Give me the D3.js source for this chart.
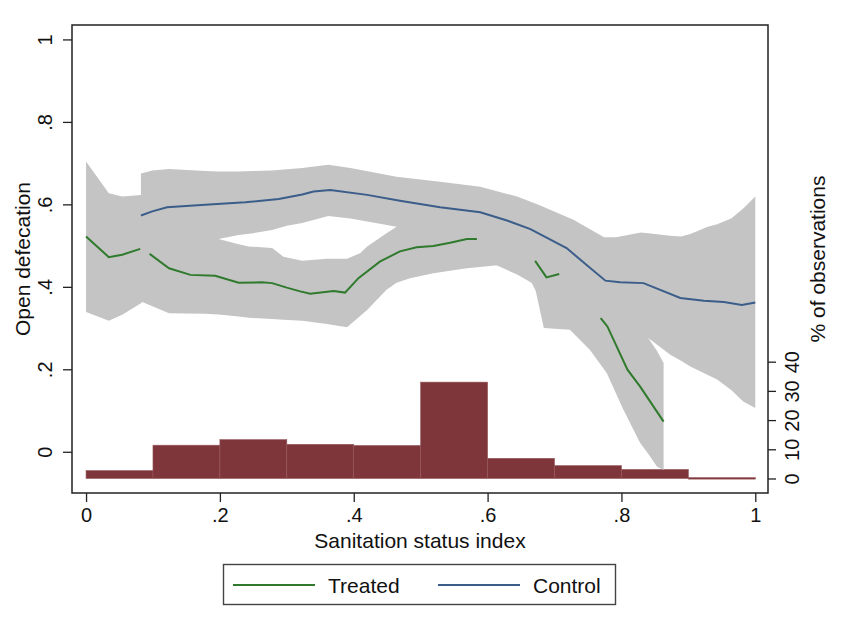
<!DOCTYPE html>
<html>
<head>
<meta charset="utf-8">
<script src="https://cdn.jsdelivr.net/npm/d3@7"></script>
<style>
  body { margin: 0; background: #fff; }
  text { font-family: "Liberation Sans", Arial, sans-serif; fill: #111; }
</style>
</head>
<body>
<svg id="chart" width="848" height="629"></svg>
<script>
// histogram: % of observations per 0.1 bin of the index
var binStart = [0, 0.1, 0.2, 0.3, 0.4, 0.5, 0.6, 0.7, 0.8, 0.9];
var binPct = [2.7, 11.4, 13.3, 11.7, 11.3, 33.0, 6.9, 4.4, 3.1, 0.3];

// treated fit (null = gap in the line)
var treatedX = [0, 0.034, 0.054, 0.081, null, 0.095, 0.124, 0.156, 0.193, 0.228, 0.263, 0.278, 0.300, 0.320, 0.335, 0.370, 0.387, 0.407, 0.439, 0.469, 0.494, 0.519, 0.544, 0.569, 0.584, null, 0.671, 0.688, 0.707, null, 0.769, 0.779, 0.809, 0.828, 0.863];
var treatedY = [0.522, 0.472, 0.478, 0.492, null, 0.480, 0.445, 0.429, 0.427, 0.410, 0.411, 0.409, 0.398, 0.389, 0.383, 0.390, 0.386, 0.421, 0.461, 0.486, 0.496, 0.499, 0.507, 0.516, 0.516, null, 0.463, 0.423, 0.431, null, 0.324, 0.304, 0.199, 0.158, 0.073];

// control fit
var controlX = [0.082, 0.099, 0.121, 0.178, 0.238, 0.288, 0.323, 0.340, 0.365, 0.420, 0.469, 0.529, 0.589, 0.629, 0.664, 0.718, 0.748, 0.776, 0.798, 0.833, 0.888, 0.923, 0.953, 0.980, 1.0];
var controlY = [0.573, 0.583, 0.593, 0.599, 0.605, 0.613, 0.624, 0.631, 0.635, 0.623, 0.609, 0.593, 0.581, 0.561, 0.540, 0.494, 0.453, 0.415, 0.411, 0.409, 0.373, 0.366, 0.363, 0.356, 0.362];

// confidence bands
var treatedCiX = [0, 0.034, 0.054, 0.082, 0.084, 0.124, 0.178, 0.198, 0.228, 0.243, 0.278, 0.295, 0.323, 0.36, 0.39, 0.41, 0.42, 0.449, 0.464, 0.484, 0.519, 0.569, 0.619, 0.659, 0.672, 0.684, 0.723, 0.753, 0.778, 0.803, 0.828, 0.840, 0.853, 0.863];
var treatedCiHi = [0.704, 0.627, 0.619, 0.623, 0.62, 0.58, 0.54, 0.516, 0.503, 0.498, 0.494, 0.473, 0.463, 0.468, 0.468, 0.482, 0.498, 0.53, 0.546, 0.56, 0.57, 0.58, 0.57, 0.55, 0.54, 0.53, 0.48, 0.43, 0.38, 0.33, 0.30, 0.276, 0.245, 0.215];
var treatedCiLo = [0.339, 0.318, 0.332, 0.360, 0.363, 0.336, 0.335, 0.333, 0.328, 0.325, 0.322, 0.320, 0.318, 0.31, 0.302, 0.330, 0.344, 0.393, 0.41, 0.421, 0.433, 0.445, 0.453, 0.433, 0.39, 0.30, 0.296, 0.247, 0.191, 0.102, 0.021, -0.005, -0.036, -0.044];

var controlCiX = [0.082, 0.099, 0.124, 0.178, 0.198, 0.228, 0.25, 0.278, 0.3, 0.323, 0.362, 0.395, 0.464, 0.529, 0.589, 0.644, 0.676, 0.729, 0.774, 0.792, 0.829, 0.84, 0.873, 0.889, 0.903, 0.929, 0.943, 0.964, 0.982, 1.0];
var controlCiHi = [0.675, 0.682, 0.686, 0.681, 0.680, 0.680, 0.681, 0.682, 0.685, 0.688, 0.696, 0.688, 0.667, 0.655, 0.643, 0.619, 0.599, 0.562, 0.520, 0.520, 0.532, 0.530, 0.524, 0.522, 0.528, 0.546, 0.552, 0.566, 0.59, 0.619];
var controlCiLo = [0.47, 0.48, 0.49, 0.51, 0.516, 0.526, 0.530, 0.538, 0.548, 0.555, 0.572, 0.566, 0.546, 0.51, 0.47, 0.43, 0.40, 0.35, 0.31, 0.30, 0.283, 0.276, 0.235, 0.221, 0.207, 0.186, 0.175, 0.150, 0.122, 0.106];

var xTicks = [0, 0.2, 0.4, 0.6, 0.8, 1];
var yTicks = [0, 0.2, 0.4, 0.6, 0.8, 1];
var pctTicks = [0, 10, 20, 30, 40];

var svg = d3.select("#chart");
var plot = {left: 72, right: 768, top: 25, bottom: 493};

var x = d3.scaleLinear().domain([-0.021, 1.019]).range([plot.left, plot.right]);
var y = d3.scaleLinear().domain([-0.1, 1.035]).range([plot.bottom, plot.top]);
var yPct = d3.scaleLinear().domain([-4.97, 155.3]).range([plot.bottom, plot.top]);

var fmt = function (d) { return d === 0 ? "0" : d === 1 ? "1" : String(d).replace(/^0/, ""); };

var grey = "#c4c4c4";

// histogram bars
svg.append("g")
  .selectAll("rect")
  .data(binStart)
  .enter().append("rect")
  .attr("x", function (d) { return x(d); })
  .attr("width", function (d) { return x(d + 0.1) - x(d); })
  .attr("y", function (d, i) { return yPct(binPct[i]); })
  .attr("height", function (d, i) { return Math.max(1.5, yPct(0) - yPct(binPct[i])); })
  .attr("fill", "#7f363a")
  .attr("stroke", "#94575a")
  .attr("stroke-width", 0.6);

// bands
function band(xs, lo, hi) {
  var pts = xs.map(function (d, i) { return {x: d, lo: lo[i], hi: hi[i]}; });
  return d3.area()
    .x(function (d) { return x(d.x); })
    .y0(function (d) { return y(d.lo); })
    .y1(function (d) { return y(d.hi); })(pts);
}
svg.append("path").attr("d", band(treatedCiX, treatedCiLo, treatedCiHi)).attr("fill", grey);
svg.append("path").attr("d", band(controlCiX, controlCiLo, controlCiHi)).attr("fill", grey);

// fitted lines
var line = d3.line()
  .defined(function (d) { return d[1] !== null; })
  .x(function (d) { return x(d[0]); })
  .y(function (d) { return y(d[1]); });

svg.append("path")
  .attr("d", line(treatedX.map(function (d, i) { return [d, treatedY[i]]; })))
  .attr("fill", "none").attr("stroke", "#2f7a2c").attr("stroke-width", 2);
svg.append("path")
  .attr("d", line(controlX.map(function (d, i) { return [d, controlY[i]]; })))
  .attr("fill", "none").attr("stroke", "#3b5d8a").attr("stroke-width", 2);

// frame
svg.append("rect")
  .attr("x", plot.left).attr("y", plot.top)
  .attr("width", plot.right - plot.left).attr("height", plot.bottom - plot.top)
  .attr("fill", "none").attr("stroke", "#222").attr("stroke-width", 1.5);

// x axis
var gx = svg.append("g").attr("transform", "translate(0," + plot.bottom + ")")
  .call(d3.axisBottom(x).tickValues(xTicks).tickFormat(fmt).tickSize(9).tickPadding(6));
gx.select(".domain").remove();
gx.selectAll("line").attr("stroke", "#222").attr("stroke-width", 1.3);
gx.selectAll("text").attr("font-size", 20).attr("dy", "0.72em").style("font-family", "Liberation Sans, Arial, sans-serif").attr("fill", "#111");

// left y axis, vertical labels
var gy = svg.append("g").attr("transform", "translate(" + plot.left + ",0)")
  .call(d3.axisLeft(y).tickValues(yTicks).tickFormat(fmt).tickSize(9));
gy.select(".domain").remove();
gy.selectAll("line").attr("stroke", "#222").attr("stroke-width", 1.3);
gy.selectAll("text")
  .attr("x", null).attr("dy", null)
  .attr("transform", "translate(-27,0) rotate(-90)")
  .attr("text-anchor", "middle")
  .attr("dominant-baseline", "central")
  .attr("font-size", 20).style("font-family", "Liberation Sans, Arial, sans-serif").attr("fill", "#111");

// right axis for histogram
var gr = svg.append("g").attr("transform", "translate(" + plot.right + ",0)")
  .call(d3.axisRight(yPct).tickValues(pctTicks).tickSize(8));
gr.select(".domain").remove();
gr.selectAll("line").attr("stroke", "#222").attr("stroke-width", 1.3);
gr.selectAll("text")
  .attr("x", null).attr("dy", null)
  .attr("transform", "translate(24,0) rotate(-90)")
  .attr("text-anchor", "middle")
  .attr("dominant-baseline", "central")
  .attr("font-size", 20).style("font-family", "Liberation Sans, Arial, sans-serif").attr("fill", "#111");

// titles
svg.append("text").attr("x", 420).attr("y", 548).attr("text-anchor", "middle")
  .attr("font-size", 21).text("Sanitation status index");
svg.append("text").attr("transform", "translate(22,259) rotate(-90)")
  .attr("text-anchor", "middle").attr("dominant-baseline", "central")
  .attr("font-size", 21).text("Open defecation");
svg.append("text").attr("transform", "translate(817,259) rotate(-90)")
  .attr("text-anchor", "middle").attr("dominant-baseline", "central")
  .attr("font-size", 21).text("% of observations");

// legend
var lg = svg.append("g");
lg.append("rect").attr("x", 223.5).attr("y", 564.5).attr("width", 392).attr("height", 40)
  .attr("fill", "#fff").attr("stroke", "#444").attr("stroke-width", 1.4);
var legendItems = [
  {label: "Treated", color: "#2f7a2c", x0: 233},
  {label: "Control", color: "#3b5d8a", x0: 438}
];
legendItems.forEach(function (d) {
  lg.append("line").attr("x1", d.x0).attr("x2", d.x0 + 82).attr("y1", 585).attr("y2", 585)
    .attr("stroke", d.color).attr("stroke-width", 2.2);
  lg.append("text").attr("x", d.x0 + 95).attr("y", 593).attr("font-size", 21).text(d.label);
});
</script>
</body>
</html>
